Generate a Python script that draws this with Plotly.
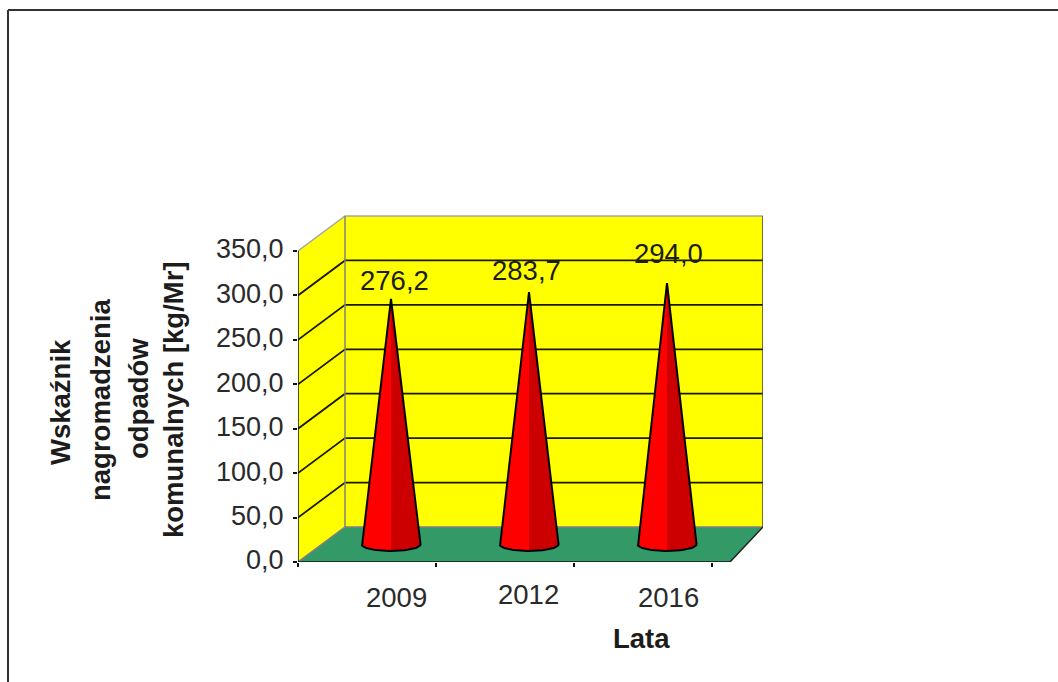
import math
import plotly.graph_objects as go

# ---- data ----
years = ["2009", "2012", "2016"]
values = [276.2, 283.7, 294.0]
y_ticks = [0, 50, 100, 150, 200, 250, 300, 350]
y_title_lines = ["Wskaźnik", "nagromadzenia", "odpadów", "komunalnych [kg/Mr]"]
x_title = "Lata"

# ---- pseudo-3D geometry (in axis units: x = category bands, y = value) ----
W, H = 1058, 682
L, R, T, B = 298, 763, 215, 562          # plot box in page pixels
BAND_PX = 138.0
Y_PER_PX = 350 / 311.0
X_MAX = (R - L) / BAND_PX
Y_MAX = (B - T) * Y_PER_PX
DEPTH_X = 47 / BAND_PX                    # wall shift, left corner
DEPTH_Y = 35 * Y_PER_PX
FLOOR_END = (730 - L) / BAND_PX
N = len(years)
CONE_A = 29.5 / BAND_PX
CONE_B = 6.8 * Y_PER_PX
CONE_Y = 20.0
CONE_X_OFFSET = 0.174
# pixel nudges of labels
LABEL_SHIFT = [(3, 18), (-3, 22), (1, 29)]
CAT_SHIFT = [(5, -35), (-1, -32), (1, -35)]
TITLE_X = [60, 100, 138, 173]
TITLE_Y = [402, 400, 399, 400]
FONT = "Liberation Sans"
INK = "#1c1c1c"
GREY = "#808080"

fig = go.Figure()


def poly(xs, ys, fill):
    fig.add_trace(go.Scatter(
        x=xs, y=ys, mode="lines", fill="toself", fillcolor=fill,
        line=dict(color=fill, width=0),
        hoverinfo="skip", showlegend=False))


def seg(xs, ys, color="#000000", width=1.5):
    fig.add_trace(go.Scatter(
        x=xs, y=ys, mode="lines", line=dict(color=color, width=width),
        hoverinfo="skip", showlegend=False))


top = y_ticks[-1]
# walls and floor
poly([0, DEPTH_X, DEPTH_X, 0, 0], [0, DEPTH_Y, top + DEPTH_Y, top, 0], "#FFFF00")
poly([DEPTH_X, X_MAX, X_MAX, DEPTH_X, DEPTH_X],
     [DEPTH_Y, DEPTH_Y, top + DEPTH_Y, top + DEPTH_Y, DEPTH_Y], "#FFFF00")
poly([0, DEPTH_X, X_MAX, FLOOR_END, 0], [0, DEPTH_Y, DEPTH_Y, 0, 0], "#339966")

# gridlines
for t in y_ticks[1:-1]:
    seg([0, DEPTH_X, X_MAX], [t, t + DEPTH_Y, t + DEPTH_Y], "#1a1a00", 1.8)

# wall edges
seg([0, DEPTH_X, X_MAX], [top, top + DEPTH_Y, top + DEPTH_Y], "#a8a8a8", 1.5)
seg([DEPTH_X, DEPTH_X], [DEPTH_Y, top + DEPTH_Y], GREY, 1.5)
seg([0, DEPTH_X, X_MAX], [0, DEPTH_Y, DEPTH_Y], GREY, 1.5)
seg([X_MAX, X_MAX], [DEPTH_Y, top + DEPTH_Y], "#404040", 1.5)
seg([FLOOR_END, X_MAX], [0, DEPTH_Y], "#202020", 1.5)

# axes lines
seg([0, 0], [0, top], "#101010", 1.5)
seg([0, FLOOR_END], [0, 0], "#101010", 1.5)

# cones
STEPS = 24
for i, v in enumerate(values):
    cx = i + 0.5 + CONE_X_OFFSET
    tip = v + CONE_Y
    arc_l = [(cx - CONE_A * math.cos(math.pi / 2 * k / STEPS),
              CONE_Y - CONE_B * math.sin(math.pi / 2 * k / STEPS)) for k in range(STEPS + 1)]
    arc_r = [(2 * cx - px, py) for px, py in arc_l]
    poly([cx] + [p[0] for p in arc_l] + [cx], [tip] + [p[1] for p in arc_l] + [tip], "#FF0000")
    poly([cx] + [p[0] for p in arc_r] + [cx], [tip] + [p[1] for p in arc_r] + [tip], "#CC0000")
    outline = arc_l + arc_r[::-1]
    seg([cx] + [p[0] for p in outline] + [cx], [tip] + [p[1] for p in outline] + [tip], "#000000", 2)

annotations = []
for i, v in enumerate(values):
    cx = i + 0.5 + CONE_X_OFFSET
    sx, sy = LABEL_SHIFT[i]
    annotations.append(dict(
        x=cx, y=v + CONE_Y, xref="x", yref="y", text=f"{v:.1f}".replace(".", ","),
        showarrow=False, xshift=sx, yshift=sy, xanchor="center", yanchor="middle",
        font=dict(family=FONT, size=27.5, color=INK)))
    sx, sy = CAT_SHIFT[i]
    annotations.append(dict(
        x=cx, y=0, xref="x", yref="y", text=years[i], showarrow=False,
        xshift=sx, yshift=sy, xanchor="center", yanchor="middle",
        font=dict(family=FONT, size=27.5, color="#2a2a2a")))


def px_x(p):
    return (p - L) / (R - L)


def px_y(p):
    return (B - p) / (B - T)


for text, tx, ty in zip(y_title_lines, TITLE_X, TITLE_Y):
    annotations.append(dict(
        x=px_x(tx), y=px_y(ty), xref="paper", yref="paper", text=f"<b>{text}</b>",
        showarrow=False, textangle=-90, xanchor="center", yanchor="middle",
        font=dict(family=FONT, size=27.5, color=INK)))
annotations.append(dict(
    x=px_x(641), y=px_y(638), xref="paper", yref="paper", text=f"<b>{x_title}</b>",
    showarrow=False, xanchor="center", yanchor="middle",
    font=dict(family=FONT, size=27.5, color=INK)))

frame = dict(type="line", xref="paper", yref="paper", layer="above",
             line=dict(color="#333333", width=2))
shapes = [
    dict(frame, x0=px_x(8), x1=px_x(W), y0=px_y(10), y1=px_y(10)),
    dict(frame, x0=px_x(8), x1=px_x(8), y0=px_y(10), y1=px_y(H)),
]

fig.update_layout(
    width=W, height=H,
    margin=dict(l=L, r=W - R, t=T, b=H - B, pad=0),
    paper_bgcolor="#FFFFFF", plot_bgcolor="#FFFFFF",
    separators=", ",
    showlegend=False,
    annotations=annotations,
    shapes=shapes,
    xaxis=dict(range=[0, X_MAX], tickvals=list(range(N + 1)), ticks="outside", ticklen=4,
               tickwidth=1.5, tickcolor="#101010", showticklabels=False, showgrid=False,
               zeroline=False, showline=False, fixedrange=True),
    yaxis=dict(range=[0, Y_MAX], tickvals=y_ticks, tickformat=".1f", ticks="outside", ticklen=4,
               tickwidth=1.5, tickcolor="#101010", showgrid=False, zeroline=False, showline=False,
               ticklabelstandoff=4, ticklabelshift=-2,
               tickfont=dict(family=FONT, size=27, color="#2a2a2a"),
               fixedrange=True),
)

fig.write_html("out.html", config={"displayModeBar": False},
               post_script="document.body.style.margin='0';document.body.style.overflow='hidden';")
